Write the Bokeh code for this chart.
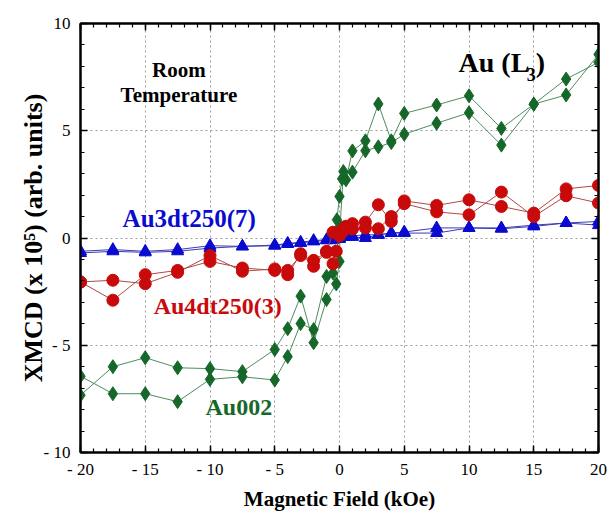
from bokeh.plotting import figure
from bokeh.models import LinearAxis, Label, SingleIntervalTicker
from bokeh.embed import file_html
from bokeh.resources import INLINE

# ---- data ----
au002_x_a = [-20, -17.5, -15, -12.5, -10, -7.5, -5, -4, -3, -2, -1, -0.5, -0.2, 0,
             0.2, 0.5, 1, 2, 3, 4, 5, 7.5, 10, 12.5, 15, 17.5, 20]
au002_y_a = [-6.44, -7.26, -7.26, -7.63, -6.59, -6.47, -6.62, -5.53, -3.99, -4.27, -1.79, -1.63, 0.85, 1.94,
             2.76, 2.71, 4.06, 4.53, 6.25, 4.53, 5.81, 6.2, 6.63, 5.11, 6.24, 6.67, 8.56]
au002_x_b = [-20, -17.5, -15, -12.5, -10, -7.5, -5, -4, -3, -2, -1, -0.25, 0, 0.05,
             0.3, 1, 2, 3, 4, 5, 7.5, 10, 12.5, 15, 17.5, 20]
au002_y_b = [-7.33, -6.0, -5.58, -6.05, -6.09, -6.23, -5.2, -4.23, -2.71, -4.88, -2.87, -2.14, -1.09, 0.54,
             3.1, 3.07, 4.07, 4.25, 4.45, 4.84, 5.35, 5.84, 4.33, 6.24, 7.41, 8.19]

au4_x_a = [-20, -17.5, -15, -12.5, -10, -7.5, -5, -4, -3, -2, -1, -0.5, -0.25, 0,
           0.25, 0.5, 1, 2, 3, 4, 5, 7.5, 10, 12.5, 15, 17.5, 20]
au4_y_a = [-2.05, -1.97, -2.13, -1.6, -0.82, -1.55, -1.44, -1.71, -0.73, -1.32, -0.62, -1.2, -0.62, 0.15,
           0.4, 0.55, 0.67, 0.74, 1.55, 0.77, 1.73, 1.52, 1.78, 1.47, 1.16, 2.29, 2.45]
au4_x_b = [-20, -17.5, -15, -12.5, -10, -7.5, -5, -4, -3, -2, -1, -0.5, 0,
           0.25, 0.5, 1, 2, 3, 4, 5, 7.5, 10, 12.5, 15, 17.5, 20]
au4_y_b = [-2.05, -2.9, -1.71, -1.51, -1.09, -1.4, -1.51, -1.51, -0.82, -1.04, -0.67, 0.27, 0.1,
           0.3, 0.45, 0.42, 0.47, 0.43, 1.0, 1.6, 1.22, 1.08, 2.14, 1.0, 1.97, 1.63]

au3_x_a = [-20, -17.5, -15, -12.5, -10, -7.5, -5, -4, -3, -2, -1, -0.5, 0,
           0.5, 1, 2, 3, 4, 5, 7.5, 10, 12.5, 15, 17.5, 20]
au3_y_a = [-0.7, -0.62, -0.67, -0.62, -0.47, -0.39, -0.36, -0.28, -0.23, -0.16, -0.11, -0.1, 0.0,
           0.05, 0.05, 0.0, 0.15, 0.23, 0.23, 0.23, 0.47, 0.43, 0.54, 0.7, 0.77]
au3_x_b = [-20, -17.5, -15, -12.5, -10, -7.5, -5, -4, -3, -2, -1, 0,
           1, 2, 3, 4, 5, 7.5, 10, 12.5, 15, 17.5, 20]
au3_y_b = [-0.62, -0.54, -0.62, -0.54, -0.36, -0.39, -0.33, -0.25, -0.2, -0.12, -0.08, -0.05,
           0.1, 0.15, 0.15, 0.23, 0.28, 0.47, 0.47, 0.47, 0.6, 0.7, 0.6]

x_tick_values = [-20, -15, -10, -5, 0, 5, 10, 15, 20]
x_tick_labels = ["- 20", "- 15", "- 10", "- 5", "0", "5", "10", "15", "20"]
y_tick_values = [-10, -5, 0, 5, 10]
y_tick_labels = ["- 10", "- 5", "0", "5", "10"]

SERIF = "'Liberation Serif', 'Times New Roman', serif"

p = figure(width=610, height=513, x_range=(-20, 20), y_range=(-10, 10),
           output_backend="svg", toolbar_location=None,
           min_border_left=80, min_border_right=12, min_border_top=23, min_border_bottom=60,
           background_fill_color="white", border_fill_color="white")

p.outline_line_color = "black"
p.outline_line_width = 2

# grids
for g in (p.xgrid[0], p.ygrid[0]):
    g.ticker = SingleIntervalTicker(interval=5)
    g.grid_line_color = "#9a9a9a"
    g.grid_line_dash = "2 3"
    g.grid_line_width = 1

# extra axes above / right
p.add_layout(LinearAxis(), "above")
p.add_layout(LinearAxis(), "right")

for ax in p.xaxis:
    ax.ticker = SingleIntervalTicker(interval=5, num_minor_ticks=5)
for ax in p.yaxis:
    ax.ticker = SingleIntervalTicker(interval=5, num_minor_ticks=5)

for ax in p.axis:
    ax.axis_line_width = 2
    ax.axis_line_color = "black"
    ax.major_tick_in = 7
    ax.major_tick_out = 0
    ax.minor_tick_in = 4
    ax.minor_tick_out = 0
    ax.major_tick_line_width = 1.5
    ax.minor_tick_line_width = 1.2
    ax.major_label_text_font = SERIF
    ax.major_label_text_font_size = "17px"
    ax.major_label_text_color = "black"

for ax in (p.above[0], p.right[0]):
    ax.major_label_text_font_size = "0px"
    ax.major_label_text_color = None
    ax.major_label_standoff = 0

xa = p.below[0]
xa.major_label_overrides = {v: t for v, t in zip(x_tick_values, x_tick_labels)}
xa.axis_label = "Magnetic Field (kOe)"
xa.axis_label_text_font = SERIF
xa.axis_label_text_font_style = "bold"
xa.axis_label_text_font_size = "21px"
xa.axis_label_text_color = "black"
xa.major_label_standoff = 7
xa.axis_label_standoff = 5

ya = p.left[0]
ya.major_label_overrides = {v: t for v, t in zip(y_tick_values, y_tick_labels)}
ya.axis_label = "XMCD (x 10\u2075) (arb. units)"
ya.axis_label_text_font = SERIF
ya.axis_label_text_font_style = "bold"
ya.axis_label_text_font_size = "26px"
ya.axis_label_text_color = "black"
ya.major_label_standoff = 10
ya.axis_label_standoff = -7

# series
GREEN, GREEN_L = "#16682a", "#4f8c5e"
RED, RED_L = "#c80a0a", "#b04848"
BLUE, BLUE_L = "#0a0ad0", "#3c3cb4"

for xs, ys in ((au002_x_a, au002_y_a), (au002_x_b, au002_y_b)):
    p.line(xs, ys, line_color=GREEN_L, line_width=1)
for xs, ys in ((au002_x_a, au002_y_a), (au002_x_b, au002_y_b)):
    p.scatter(xs, ys, marker="diamond", size=14, fill_color=GREEN, line_color=GREEN)

for xs, ys in ((au3_x_a, au3_y_a), (au3_x_b, au3_y_b)):
    p.line(xs, ys, line_color=BLUE_L, line_width=1)
for xs, ys in ((au3_x_a, au3_y_a), (au3_x_b, au3_y_b)):
    p.scatter(xs, ys, marker="triangle", size=12, fill_color=BLUE, line_color=BLUE)

for xs, ys in ((au4_x_a, au4_y_a), (au4_x_b, au4_y_b)):
    p.line(xs, ys, line_color=RED_L, line_width=1)
for xs, ys in ((au4_x_a, au4_y_a), (au4_x_b, au4_y_b)):
    p.scatter(xs, ys, marker="circle", size=12, fill_color=RED, line_color=RED)

# annotations
def lab(x, y, text, size, color="black", align="left", baseline="middle"):
    p.add_layout(Label(x=x, y=y, text=text, text_font=SERIF, text_font_style="bold",
                       text_font_size=size, text_color=color, text_align=align,
                       text_baseline=baseline))

lab(-12.4, 7.83, "Room", "21px", align="center")
lab(-12.4, 6.67, "Temperature", "21px", align="center")
lab(9.19, 8.2, "Au (L", "28px", baseline="alphabetic")
lab(14.45, 7.6, "3", "18px", baseline="alphabetic")
lab(15.15, 8.2, ")", "28px", baseline="alphabetic")
lab(-16.75, 0.9, "Au3dt250(7)", "25px", color=BLUE)
lab(-14.35, -3.15, "Au4dt250(3)", "24px", color=RED)
lab(-10.35, -7.9, "Au002", "24px", color=GREEN)

open("out.html", "w").write(file_html(p, INLINE))
